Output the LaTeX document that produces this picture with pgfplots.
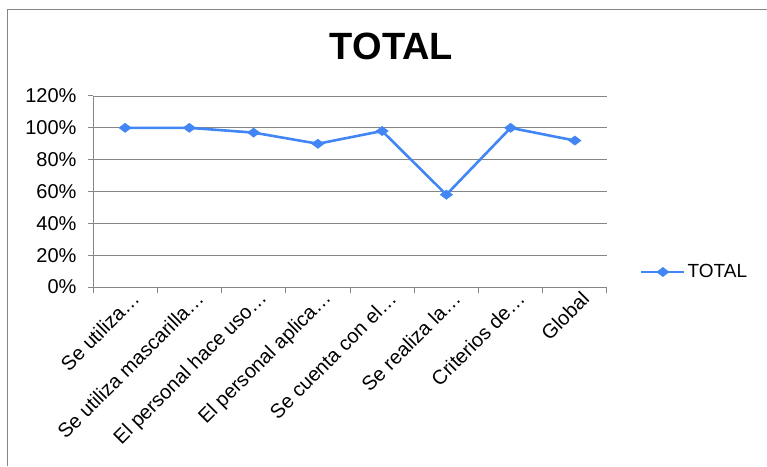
\documentclass[border=0pt]{standalone}
\usepackage{fontspec}
\setmainfont{Liberation Sans}
\usepackage{pgfplots}
\pgfplotsset{compat=1.18}

\definecolor{linblue}{RGB}{66,133,244}
\definecolor{gridgray}{RGB}{134,134,134}

\begin{document}
\begin{tikzpicture}[x=1pt,y=1pt]
\path[use as bounding box] (0,0) rectangle (767,466);
\draw[gridgray, line width=1.2pt] (7.5,0) -- (7.5,456.5) -- (767,456.5);
\node[anchor=base, font=\fontsize{38}{40}\selectfont\bfseries] at (391.5,406) {TOTAL};

\begin{axis}[
  at={(93pt,179pt)}, anchor=south west,
  scale only axis, width=514pt, height=191pt,
  xmin=-0.5, xmax=7.5, ymin=0, ymax=120,
  axis x line=bottom, axis y line=left,
  axis line style={gridgray, line width=1pt, -},
  xtick={0,...,7},
  xticklabels={Se utiliza…, Se utiliza mascarilla…, El personal hace uso…, El personal aplica…, Se cuenta con el…, Se realiza la…, Criterios de…, Global},
  minor xtick={-0.5,0.5,...,7.5},
  major x tick style={draw=none},
  minor tick length=6pt,
  minor x tick style={gridgray, line width=1pt},
  tick align=outside,
  ytick={0,20,...,120},
  yticklabel={\pgfmathprintnumber{\tick}\%},
  major tick length=5pt,
  y tick style={gridgray, line width=1pt},
  ymajorgrids, grid style={gridgray, line width=0.9pt},
  tick label style={font=\fontsize{20}{22}\selectfont, text=black},
  yticklabel style={xshift=-8pt},
  xticklabel style={xshift=13pt, yshift=-1pt, rotate=45, anchor=east},
  /pgf/number format/assume math mode=true,
  legend style={at={(1.064,0.0785)}, anchor=west, draw=none, fill=none,
    inner sep=0pt, font=\fontsize{19}{21}\selectfont},
  legend image code/.code={\draw[#1, mark repeat=2, mark phase=2] plot coordinates {(0pt,0pt) (21.5pt,0pt) (43pt,0pt)};},
  clip=false,
]
\addplot[linblue, line width=2.6pt, mark=diamond*, mark size=4.6pt,
  mark options={xscale=1.78, line width=0.5pt}]
  coordinates {(0,100) (1,100) (2,97) (3,90) (4,98) (5,58) (6,100) (7,92)};
\addlegendentry{TOTAL}
\end{axis}
\end{tikzpicture}
\end{document}
